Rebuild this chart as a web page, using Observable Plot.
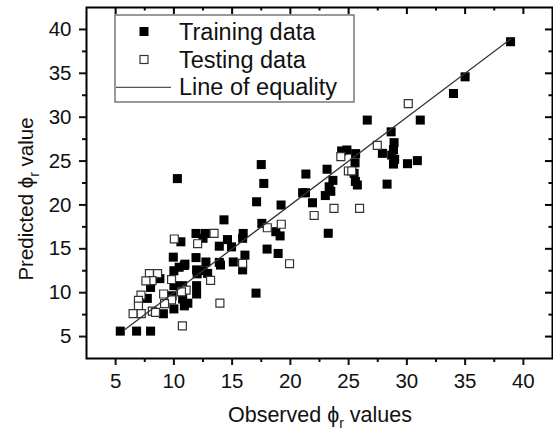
<!DOCTYPE html>
<html><head><meta charset="utf-8">
<script src="https://cdn.jsdelivr.net/npm/d3@7"></script>
<script src="https://cdn.jsdelivr.net/npm/@observablehq/plot@0.6"></script>
<style>body{margin:0;background:#fff} svg{display:block}</style>
</head><body><div id="chart"></div>
<script>
// Training data (filled squares)
const trainX = [38.9,35.0,34.0,26.6,31.15,28.65,28.9,28.85,27.9,28.7,28.95,28.85,30.05,30.9,28.3,
  24.4,24.85,25.6,25.55,25.47,25.58,25.75,
  23.15,23.65,23.33,23.47,23.0,21.05,21.3,21.33,21.9,23.25,
  17.5,17.72,17.1,19.2,17.55,18.75,19.12,18.0,18.95,17.05,
  14.3,15.95,15.9,14.6,13.9,14.95,16.1,13.9,14.0,15.1,15.9,
  10.3,11.9,12.7,12.5,10.6,9.95,10.95,11.9,12.75,
  11.95,12.0,12.9,12.5,10.0,10.45,10.9,10.75,10.0,9.85,10.75,10.9,11.2,10.0,9.1,8.8,8.0,7.72,11.95,11.95,
  5.4,6.8,8.0];
const trainY = [38.6,34.6,32.7,29.67,29.67,28.33,27.1,26.3,25.88,25.68,25.2,24.66,24.7,25.05,22.37,
  26.15,26.26,25.85,24.8,23.6,22.68,22.27,
  24.07,22.8,22.07,21.55,21.07,21.39,21.39,23.52,20.25,16.77,
  24.6,22.45,20.36,19.99,17.9,16.95,16.47,14.97,14.47,9.95,
  18.3,16.75,16.2,16.05,15.3,15.22,14.28,13.45,13.15,13.5,12.6,
  23.0,16.75,16.75,16.2,15.8,14.05,13.25,14.0,13.5,
  12.6,12.15,12.2,12.5,12.5,12.9,13.1,10.8,10.8,9.65,9.28,8.5,8.8,8.15,7.6,11.6,10.6,9.35,10.8,9.85,
  5.62,5.62,5.62];

// Testing data (open squares)
const testX = [30.12,27.46,24.33,24.98,25.27,23.74,25.94,22.04,19.22,18.02,19.93,15.9,13.45,12.04,10.04,
  13.15,13.95,10.73,11.05,10.65,9.8,9.8,9.12,9.2,7.9,8.6,8.12,7.6,7.18,6.96,6.96,6.5,7.2,8.15,8.42];
const testY = [31.55,26.78,25.5,23.87,23.87,19.6,19.6,18.8,17.8,17.4,13.3,13.35,16.75,15.58,16.12,
  11.4,8.82,6.22,10.3,10.1,11.5,9.18,9.85,8.75,12.17,12.17,11.37,11.35,9.72,9.12,8.46,7.62,7.62,7.9,7.75];

// Line of equality (y = x) drawn over the span of the data
const equalityX = [5.8, 38.9];

const majorTicks = [5, 10, 15, 20, 25, 30, 35, 40];
const minorTicks = [7.5, 12.5, 17.5, 22.5, 27.5, 32.5, 37.5];
const legendLabels = ["Training data", "Testing data", "Line of equality"];
const xLabelParts = ["Observed \u03d5", "r", " values"];
const yLabelParts = ["Predicted \u03d5", "r", " value"];

const train = trainX.map((x, i) => ({x, y: trainY[i]}));
const test = testX.map((x, i) => ({x, y: testY[i]}));
const equality = equalityX.map(v => ({x: v, y: v}));

const font = "'Liberation Sans', Arial, sans-serif";
const noText = () => "";

const chart = Plot.plot({
  width: 553, height: 433,
  marginLeft: 86, marginRight: 1, marginTop: 7, marginBottom: 75,
  style: {fontFamily: font, background: "#fff", color: "#111", overflow: "visible"},
  x: {domain: [2.5, 42.5], label: null},
  y: {domain: [2.5, 42.5], label: null},
  marks: [
    Plot.dot(train, {x: "x", y: "y", symbol: "square", r: 5.1, fill: "#000", stroke: "none"}),
    Plot.dot(test, {x: "x", y: "y", symbol: "square", r: 4.5, fill: "#fff", stroke: "#333", strokeWidth: 1.2}),
    Plot.line(equality, {x: "x", y: "y", stroke: "#333", strokeWidth: 1.3}),
    // bottom axis (outward)
    Plot.axisX({anchor: "bottom", ticks: majorTicks, tickSize: 7, tickPadding: 8, fontSize: 20.5, strokeWidth: 2, label: null}),
    Plot.axisX({anchor: "bottom", ticks: minorTicks, tickSize: 4, tickFormat: noText, strokeWidth: 2, label: null}),
    // left axis (outward)
    Plot.axisY({anchor: "left", ticks: majorTicks, tickSize: 7, tickPadding: 8, fontSize: 20.5, strokeWidth: 2, label: null}),
    Plot.axisY({anchor: "left", ticks: minorTicks, tickSize: 4, tickFormat: noText, strokeWidth: 2, label: null}),
    // top ticks (inward)
    Plot.ruleX(majorTicks, {x: d => d, y1: 42.5, y2: 42.5, insetBottom: -7, stroke: "#000", strokeWidth: 2}),
    Plot.ruleX(minorTicks, {x: d => d, y1: 42.5, y2: 42.5, insetBottom: -3.5, stroke: "#000", strokeWidth: 2}),
    // right ticks (inward)
    Plot.ruleY(majorTicks, {y: d => d, x1: 42.5, x2: 42.5, insetLeft: -7, stroke: "#000", strokeWidth: 2}),
    Plot.ruleY(minorTicks, {y: d => d, x1: 42.5, x2: 42.5, insetLeft: -3.5, stroke: "#000", strokeWidth: 2}),
    Plot.frame({stroke: "#000", strokeWidth: 2})
  ]
});
document.getElementById("chart").appendChild(chart);

const svg = d3.select(chart);

// Axis labels with subscript
function label(parts, attrs, size) {
  const t = svg.append("text")
    .attr("font-family", font).attr("font-size", size).attr("fill", "#111")
    .attr("text-anchor", "middle");
  for (const [k, v] of Object.entries(attrs)) t.attr(k, v);
  t.append("tspan").text(parts[0]);
  t.append("tspan").attr("font-size", 14).attr("dy", 6).text(parts[1]);
  t.append("tspan").attr("dy", -6).text(parts[2]);
}
label(xLabelParts, {x: 320, y: 422}, 21.5);
label(yLabelParts, {transform: "translate(33,199) rotate(-90)"}, 20.5);

// Legend
const lg = svg.append("g");
lg.append("rect").attr("x", 115).attr("y", 15).attr("width", 239).attr("height", 87)
  .attr("fill", "#fff").attr("stroke", "#555").attr("stroke-width", 1.2);
const rowY = [31.5, 59.5, 87.3];
lg.append("rect").attr("x", 139.5).attr("y", rowY[0] - 4.5).attr("width", 9).attr("height", 9).attr("fill", "#000");
lg.append("rect").attr("x", 140).attr("y", rowY[1] - 4).attr("width", 8).attr("height", 8)
  .attr("fill", "#fff").attr("stroke", "#333").attr("stroke-width", 1.2);
lg.append("line").attr("x1", 116).attr("x2", 171).attr("y1", rowY[2]).attr("y2", rowY[2])
  .attr("stroke", "#555").attr("stroke-width", 1.3);
legendLabels.forEach((s, i) => {
  lg.append("text").attr("x", 179).attr("y", rowY[i] + 8).attr("text-anchor", "start")
    .attr("font-family", font).attr("font-size", 23.5).attr("fill", "#111").text(s);
});
</script>
</body></html>
